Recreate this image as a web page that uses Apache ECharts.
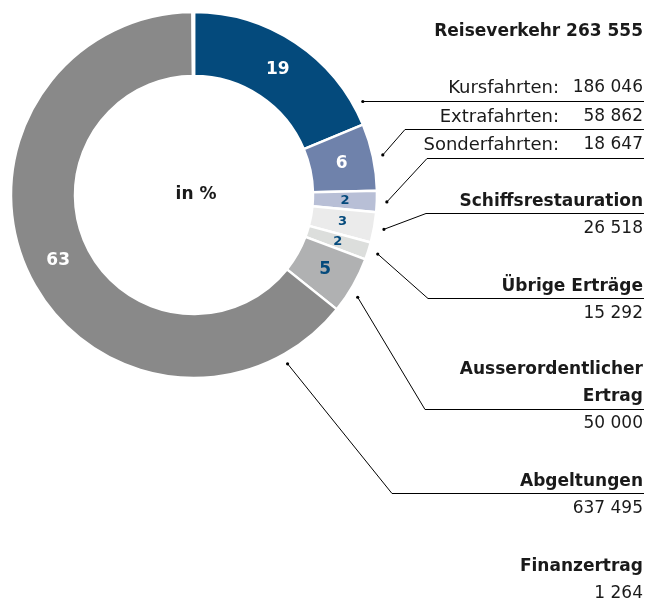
<!DOCTYPE html>
<html>
<head>
<meta charset="utf-8">
<script src="https://cdn.jsdelivr.net/npm/echarts@6/dist/echarts.min.js"></script>
<style>html,body{margin:0;padding:0;background:#fff}#c{width:646px;height:601px}</style>
</head>
<body>
<div id="c"></div>
<script>
// ---- data ----
const categories = ['Kursfahrten', 'Extrafahrten', 'Sonderfahrten', 'Schiffsrestauration', 'Übrige Erträge', 'Ausserordentlicher\nErtrag', 'Abgeltungen', 'Finanzertrag'];
const values = [186046, 58862, 18647, 26518, 15292, 50000, 637495, 1264];
const pctLabels = ['19', '6', '2', '3', '2', '5', '63', ''];
const groupTitle = 'Reiseverkehr';
const groupCount = 3;
const centerText = 'in %';

// ---- styles / layout ----
const sliceColors = ['#044A7C', '#6F82AB', '#B8BFD6', '#EBEBEB', '#DCDEDC', '#B0B1B2', '#898989', '#FFFFFF'];
const pctColors = ['#FFFFFF', '#FFFFFF', '#044A7C', '#044A7C', '#044A7C', '#044A7C', '#FFFFFF', '#FFFFFF'];
const pctSizes = [17, 17, 13, 13, 13, 17, 17, 13];
const FONT = 'DejaVu Sans';
const TXT = '#1a1a1a';
const CX = 194, CY = 195, R0 = 119, R1 = 183, RA = 193, RIGHT = 643, LINE_END = 644;
const labelTop = [74.5, 103.5, 131.5, 188.5, 273.5, 356.5, 468.5, 553.5];
const underlineY = [101.5, 129.5, 158.5, 213.5, 298.5, 409.5, 493.5, null];
const bendX = [null, 405, 427, 426, 428, 425, 392, null];
const anchorDeg = [null, null, null, null, null, 122, 151, null];

function fmt(v) { return String(v).replace(/\B(?=(\d{3})+(?!\d))/g, ' '); }

const anchors = [];
function anchorFor(i, params) {
  if (i === 0) {
    const uy = underlineY[i];
    return [CX + Math.sqrt(RA * RA - (uy - CY) * (uy - CY)), uy];
  }
  if (anchorDeg[i] != null) {
    const t = anchorDeg[i] * Math.PI / 180;
    return [CX + RA * Math.sin(t), CY - RA * Math.cos(t)];
  }
  const p = params.labelLinePoints[0];
  const dx = p[0] - CX, dy = p[1] - CY, l = Math.sqrt(dx * dx + dy * dy);
  return [CX + dx / l * RA, CY + dy / l * RA];
}

const groupTotal = values.slice(0, groupCount).reduce((a, b) => a + b, 0);

const sliceData = categories.map((n, i) => ({
  name: n, value: values[i],
  itemStyle: { color: sliceColors[i] },
  labelLine: { show: underlineY[i] != null }
}));
const pctData = categories.map((n, i) => ({
  name: n, value: values[i],
  label: { color: pctColors[i], fontSize: pctSizes[i] }
}));

const baseGraphic = [
  { id: 'center', type: 'text', x: CX + 2, y: CY, z: 20,
    style: { text: centerText, align: 'center', verticalAlign: 'middle', fontFamily: FONT, fontWeight: 'bold', fontSize: 17, fill: TXT } },
  { id: 'head', type: 'text', x: RIGHT, y: 32, z: 20,
    style: { text: groupTitle + ' ' + fmt(groupTotal), align: 'right', verticalAlign: 'middle', fontFamily: FONT, fontWeight: 'bold', fontSize: 17, fill: TXT } }
];

const option = {
  backgroundColor: '#fff',
  animation: false,
  graphic: baseGraphic,
  series: [
    {
      type: 'pie',
      center: [CX, CY],
      radius: [R0, R1],
      startAngle: 90,
      clockwise: true,
      avoidLabelOverlap: false,
      silent: true,
      itemStyle: { borderColor: '#fff', borderWidth: 2.5 },
      label: {
        show: true,
        position: 'outside',
        overflow: 'none',
        fontFamily: FONT,
        color: TXT,
        formatter: function (p) {
          const i = p.dataIndex;
          if (i < groupCount) return '{n|' + categories[i] + ':}{v|' + fmt(values[i]) + '}';
          return '{b|' + categories[i] + '}\n{r|' + fmt(values[i]) + '}';
        },
        rich: {
          n: { fontFamily: FONT, fontSize: 18, color: TXT, lineHeight: 27 },
          v: { fontFamily: FONT, fontSize: 17, color: TXT, lineHeight: 27, width: 84, align: 'right' },
          b: { fontFamily: FONT, fontSize: 17, fontWeight: 'bold', color: TXT, lineHeight: 27 },
          r: { fontFamily: FONT, fontSize: 17, color: TXT, lineHeight: 27 }
        }
      },
      labelLine: { show: true, length: 10, length2: 10, smooth: false, lineStyle: { color: '#000', width: 1 } },
      labelLayout: function (params) {
        const i = params.dataIndex;
        const res = { x: RIGHT, y: labelTop[i], align: 'right', verticalAlign: 'top' };
        if (underlineY[i] != null) {
          const a = anchorFor(i, params);
          const uy = underlineY[i];
          const bx = bendX[i] == null ? a[0] : bendX[i];
          res.labelLinePoints = [a, [bx, uy], [LINE_END, uy]];
          anchors[i] = a;
        }
        return res;
      },
      data: sliceData
    },
    {
      type: 'pie',
      center: [CX, CY],
      radius: [113, R1],
      startAngle: 90,
      clockwise: true,
      silent: true,
      itemStyle: { color: 'rgba(0,0,0,0)', borderWidth: 0 },
      label: {
        show: true,
        position: 'inside',
        overflow: 'none',
        fontFamily: FONT,
        fontWeight: 'bold',
        formatter: function (p) { return pctLabels[p.dataIndex]; }
      },
      labelLine: { show: false },
      data: pctData
    }
  ]
};

const chart = echarts.init(document.getElementById('c'), null, { renderer: 'canvas' });
chart.setOption(option);
const dots = [];
anchors.forEach((a, i) => {
  if (a) dots.push({ id: 'dot' + i, type: 'circle', z: 20, shape: { cx: a[0], cy: a[1], r: 1.6 }, style: { fill: '#000' } });
});
chart.setOption({ graphic: baseGraphic.concat(dots) });
</script>
</body>
</html>
